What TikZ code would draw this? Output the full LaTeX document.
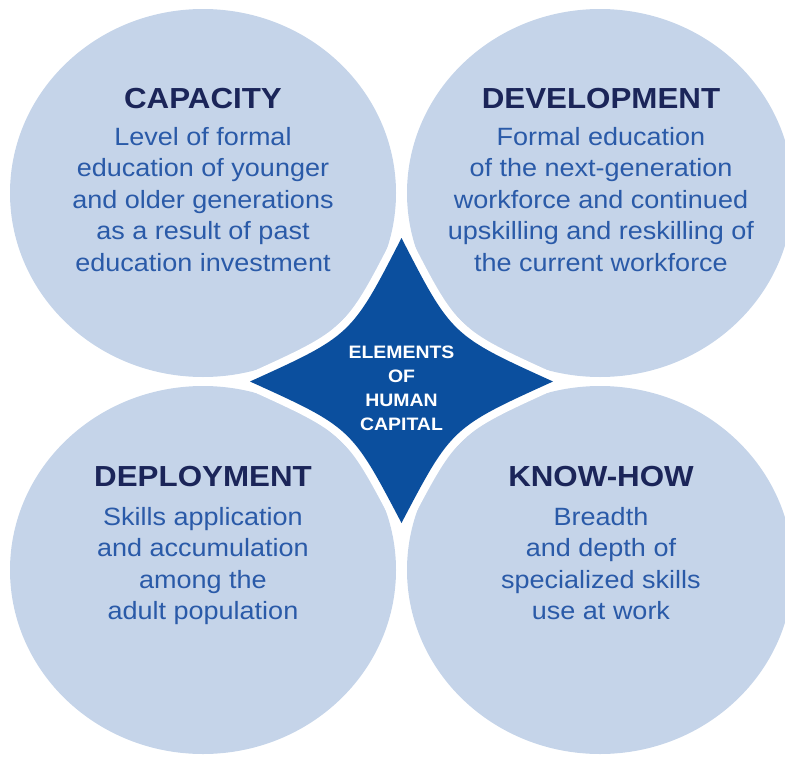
\documentclass[tikz,border=0pt]{standalone}
\usepackage{fontspec}
\setmainfont[FakeStretch=1.08]{Liberation Sans}
\usetikzlibrary{positioning}

\definecolor{circulo}{RGB}{197,212,233}
\definecolor{azulescuro}{RGB}{11,79,158}
\definecolor{titulo}{RGB}{27,37,89}
\definecolor{corpo}{RGB}{42,90,168}

\tikzset{
  bolha/.style={fill=circulo},
  titulotxt/.style={anchor=base, inner sep=0pt, text=titulo, font=\fontsize{29}{34}\selectfont\bfseries},
  corpotxt/.style={anchor=north, inner sep=0pt, align=center, text=corpo, font=\fontsize{25}{31.5}\selectfont},
  centrotxt/.style={anchor=north, inner sep=0pt, align=center, text=white, font=\fontsize{18}{24}\selectfont\bfseries}
}

\begin{document}
\begin{tikzpicture}[x=1pt, y=-1pt]
    \useasboundingbox (0,0) rectangle (785,758);

    % Centros dos quatro círculos
    \coordinate (TL) at (203,193);
    \coordinate (TR) at (600,193);
    \coordinate (BL) at (203,570);
    \coordinate (BR) at (600,570);

    % Círculos
    \foreach \c in {TL,TR,BL,BR}
        \fill[bolha] (\c) ellipse [x radius=193pt, y radius=184pt];

    % Estrela central
    \coordinate (T) at (401.5,238);
    \coordinate (R) at (553,381.5);
    \coordinate (B) at (401.5,523);
    \coordinate (L) at (250,381.5);
    \def\estrela{(T) .. controls (451.6,335.5) .. (R)
                     .. controls (451.6,427.5) .. (B)
                     .. controls (351.4,427.5) .. (L)
                     .. controls (351.4,335.5) .. (T) -- cycle}
    \draw[white, line width=16pt, line join=miter] \estrela;
    \fill[azulescuro] \estrela;

    % Textos
    \node[titulotxt] (capacity) at (203,108) {CAPACITY};
    \node[corpotxt] (capacitytxt) at (203,127) {Level of formal\\education of younger\\and older generations\\as a result of past\\education investment};

    \node[titulotxt] (development) at (601,108) {DEVELOPMENT};
    \node[corpotxt] (developmenttxt) at (601,127) {Formal education\\of the next-generation\\workforce and continued\\upskilling and reskilling of\\the current workforce};

    \node[titulotxt] (deployment) at (203,486) {DEPLOYMENT};
    \node[corpotxt] (deploymenttxt) at (203,507) {Skills application\\and accumulation\\among the\\adult population};

    \node[titulotxt] (knowhow) at (601,486) {KNOW-HOW};
    \node[corpotxt] (knowhowtxt) at (601,507) {Breadth\\and depth of\\specialized skills\\use at work};

    \node[centrotxt] (elements) at (401.5,346) {ELEMENTS\\OF\\HUMAN\\CAPITAL};
\end{tikzpicture}
\end{document}
